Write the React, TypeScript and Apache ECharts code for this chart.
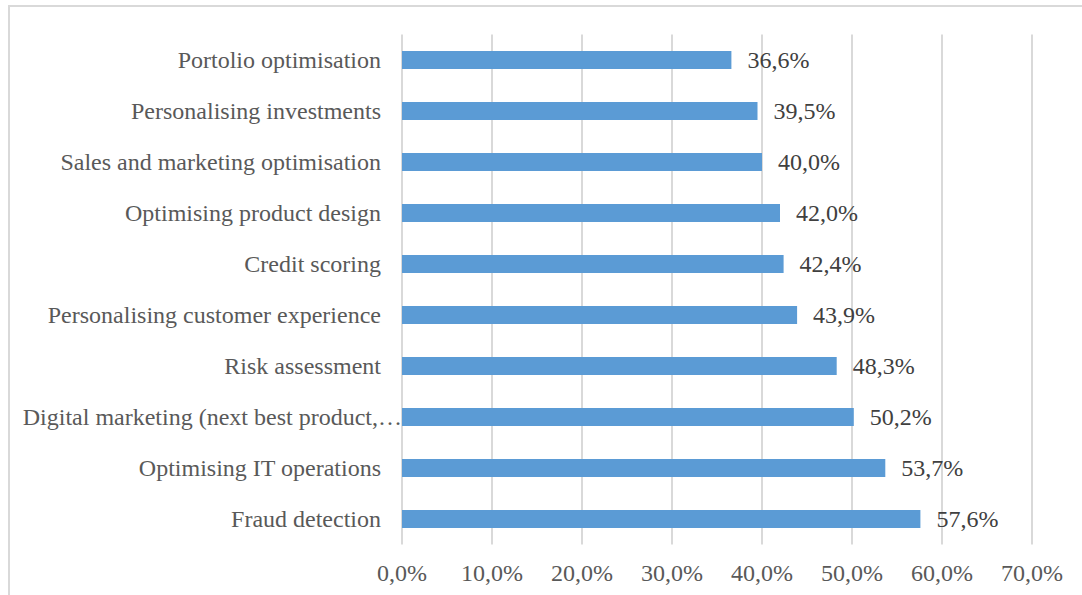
import React, { useEffect, useRef } from "react";
import * as echarts from "echarts";

const categories = [
  "Fraud detection",
  "Optimising IT operations",
  "Digital marketing (next best product,…",
  "Risk assessment",
  "Personalising customer experience",
  "Credit scoring",
  "Optimising product design",
  "Sales and marketing optimisation",
  "Personalising investments",
  "Portolio optimisation",
];
const values = [57.6, 53.7, 50.2, 48.3, 43.9, 42.4, 42.0, 40.0, 39.5, 36.6];
const tickValues = [0, 10, 20, 30, 40, 50, 60, 70];

const fmt = (v: number) => v.toFixed(1).replace(".", ",") + "%";

export default function App() {
  const ref = useRef<HTMLDivElement>(null);
  useEffect(() => {
    if (!ref.current) return;
    const chart = echarts.init(ref.current, undefined, { renderer: "svg" });
    const font = "'Liberation Serif', 'Times New Roman', serif";
    chart.setOption({
      animation: false,
      backgroundColor: "#ffffff",
      textStyle: { fontFamily: font },
      graphic: [
        {
          type: "rect",
          shape: { x: 9, y: 6, width: 1200, height: 800 },
          style: { fill: "none", stroke: "#D9D9D9", lineWidth: 2 },
          silent: true,
        },
      ],
      grid: { left: 402, right: 50, top: 34.5, bottom: 50.5, containLabel: false },
      xAxis: {
        type: "value",
        min: tickValues[0],
        max: tickValues[tickValues.length - 1],
        interval: 10,
        axisLine: { show: false },
        axisTick: { show: false },
        splitLine: { show: true, lineStyle: { color: "#D9D9D9", width: 2 } },
        axisLabel: {
          formatter: (v: number) => fmt(v),
          color: "#595959",
          fontSize: 24,
          fontFamily: font,
          margin: 16,
        },
      },
      yAxis: {
        type: "category",
        data: categories.map((c) =>
          c.startsWith("Digital")
            ? { value: c, textStyle: { padding: [0, 0, 0, 0] } }
            : c
        ),
        axisLine: { show: false },
        axisTick: { show: false },
        splitLine: { show: false },
        axisLabel: {
          color: "#595959",
          fontSize: 24,
          fontFamily: font,
          margin: 0,
          padding: [0, 21, 0, 0],
          interval: 0,
        },
      },
      series: [
        {
          type: "bar",
          data: values,
          barWidth: 18,
          itemStyle: { color: "#5B9BD5" },
          label: {
            show: true,
            position: "right",
            distance: 16,
            formatter: (p: any) => fmt(p.value),
            color: "#404040",
            fontSize: 24,
            fontFamily: font,
          },
        },
      ],
    });
    return () => chart.dispose();
  }, []);
  return (
    <div
      ref={ref}
      style={{ position: "fixed", left: 0, top: 0, width: 1082, height: 595 }}
    />
  );
}
